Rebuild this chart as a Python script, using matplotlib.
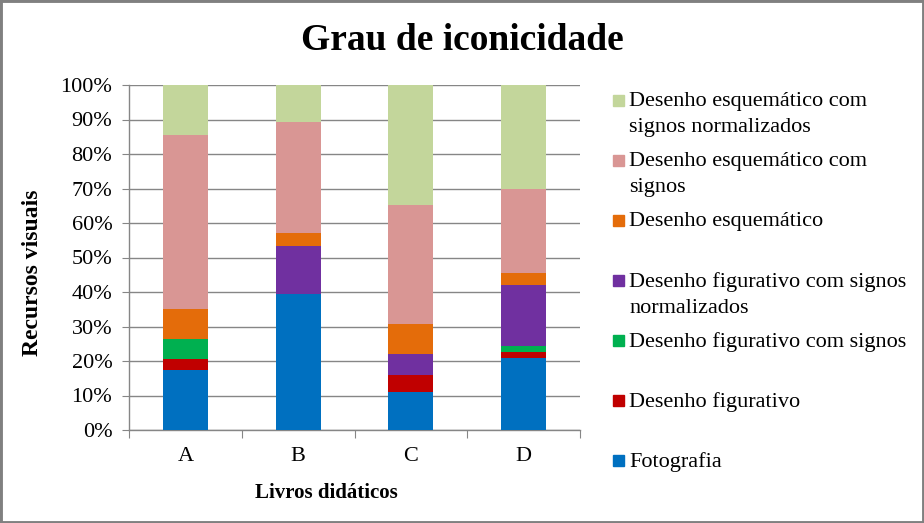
import numpy as np
import matplotlib.pyplot as plt
from matplotlib.patches import Rectangle

plt.rcParams['font.family'] = ['Liberation Serif', 'DejaVu Serif']

# Data (percent of visual resources per textbook)
books = ["A", "B", "C", "D"]
series_names = [
    "Fotografia",
    "Desenho figurativo",
    "Desenho figurativo com signos",
    "Desenho figurativo com signos\nnormalizados",
    "Desenho esquemático",
    "Desenho esquemático com\nsignos",
    "Desenho esquemático com\nsignos normalizados",
]
fotografia = [17.4, 39.4, 11.0, 20.9]
fig_simples = [3.2, 0.0, 5.0, 1.7]
fig_signos = [5.9, 0.0, 0.0, 1.7]
fig_normal = [0.0, 14.0, 6.0, 17.7]
esquematico = [8.6, 3.8, 8.7, 3.5]
esq_signos = [50.3, 32.0, 34.5, 24.4]
esq_normal = [14.6, 10.8, 34.8, 30.1]

colors = ["#0070C0", "#C00000", "#00B050", "#7030A0",
          "#E46C0A", "#D99694", "#C3D69B"]

values = [fotografia, fig_simples, fig_signos, fig_normal,
          esquematico, esq_signos, esq_normal]

fig = plt.figure(figsize=(9.24, 5.23), dpi=100)
ax = fig.add_axes([129 / 924, 1 - 430 / 523, 451 / 924, 345 / 523])

x = np.arange(len(books))
bottom = np.zeros(len(books))
for vals, col in zip(values, colors):
    ax.bar(x, vals, width=0.4, bottom=bottom, color=col, zorder=3)
    bottom += np.array(vals)

ax.set_xlim(-0.5, len(books) - 0.5)
ax.set_ylim(0, 100)
ax.set_yticks(np.arange(0, 101, 10))
ax.set_yticklabels([f"{v}%" for v in range(0, 101, 10)], fontsize=16)
ax.yaxis.grid(True, color="#868686", lw=1.0, zorder=0)

# category labels on minor ticks, boundary marks on major ticks
ax.set_xticks(np.arange(-0.5, len(books), 1.0))
ax.set_xticklabels([])
ax.set_xticks(x, minor=True)
ax.set_xticklabels(books, minor=True, fontsize=16)
ax.tick_params(axis="x", which="major", length=6, color="#868686")
ax.tick_params(axis="x", which="minor", length=0, pad=12)
ax.tick_params(axis="y", length=5, color="#868686", pad=7)

for side in ["top", "right"]:
    ax.spines[side].set_visible(False)
for side in ["left", "bottom"]:
    ax.spines[side].set_color("#868686")
    ax.spines[side].set_linewidth(1.0)

fig.text(0.5, 1 - 40 / 523, "Grau de iconicidade", ha="center", va="center",
         fontsize=27, fontweight="bold")
fig.text(326 / 924, 1 - 493 / 523, "Livros didáticos", ha="center", va="center",
         fontsize=15, fontweight="bold")
fig.text(33 / 924, 1 - 273 / 523, "Recursos visuais", ha="center", va="center",
         rotation=90, fontsize=17, fontweight="bold")

# legend, top entry = last series
for i, (name, col) in enumerate(zip(series_names[::-1], colors[::-1])):
    ytop = 101 + 60 * i
    fig.patches.append(Rectangle((613 / 924, 1 - (ytop + 5) / 523), 11 / 924, 11 / 523,
                                 transform=fig.transFigure, color=col))
    fig.text(629 / 924, 1 - (ytop - 9) / 523, name, ha="left", va="top",
             fontsize=16, linespacing=1.5)

fig.patches.append(Rectangle((0, 0), 1, 1, transform=fig.transFigure, fill=False,
                             edgecolor="#808080", lw=3.5, clip_on=False))

fig.savefig("out.png", dpi=100)
